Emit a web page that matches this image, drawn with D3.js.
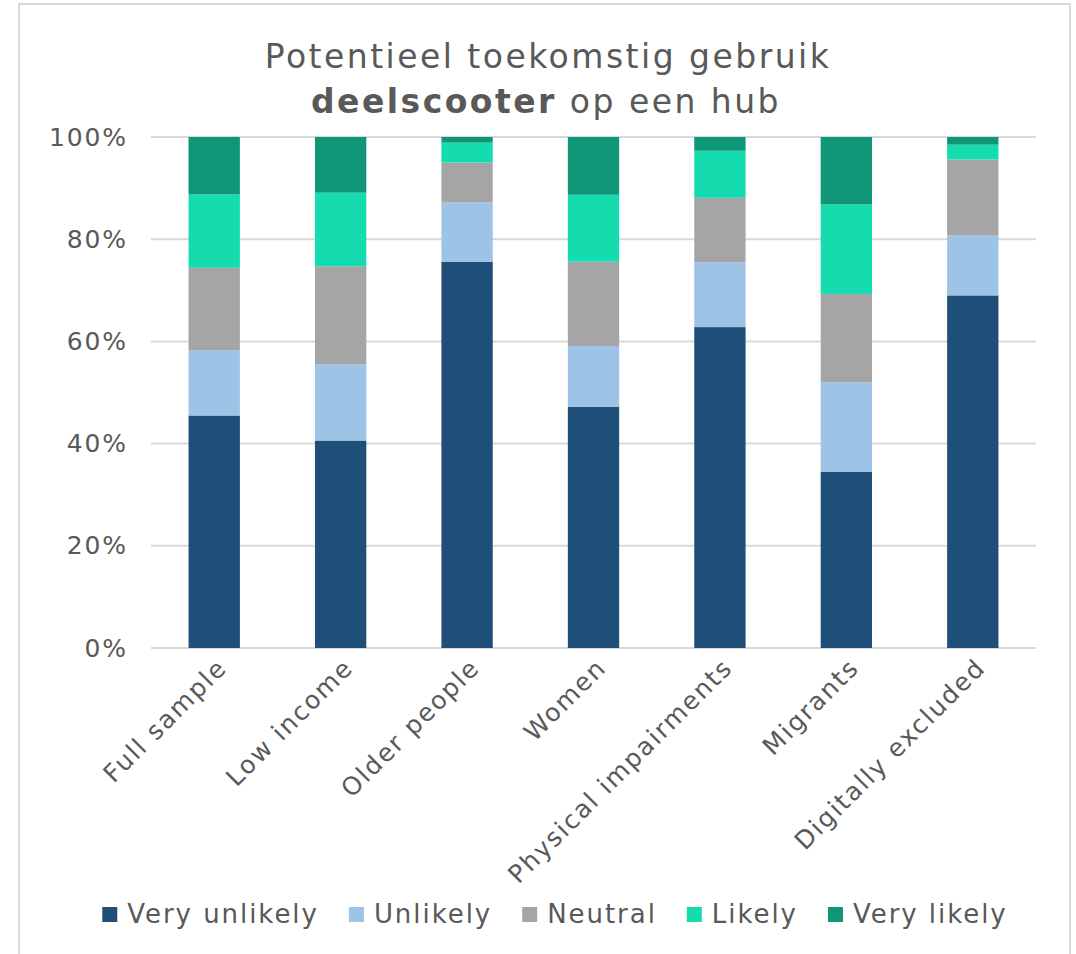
<!DOCTYPE html>
<html lang="nl">
<head>
<meta charset="UTF-8">
<title>Potentieel toekomstig gebruik deelscooter</title>
<script src="https://d3js.org/d3.v7.min.js"></script>
<style>
  body { margin: 0; background: #fff; }
  svg text { font-family: "DejaVu Sans", Verdana, sans-serif; fill: #595959; letter-spacing: 0.075em; }
</style>
</head>
<body>
<svg width="1076" height="954"></svg>
<script>
  // categories and answers (percent of group)
  const categories = ["Full sample", "Low income", "Older people", "Women", "Physical impairments", "Migrants", "Digitally excluded"];
  const seriesNames = ["Very unlikely", "Unlikely", "Neutral", "Likely", "Very likely"];
  const veryUnlikely = [45.5, 40.6, 75.6, 47.2, 62.8, 34.5, 69.0];
  const unlikely     = [12.7, 14.9, 11.6, 11.9, 12.7, 17.5, 11.7];
  const neutral      = [16.2, 19.2,  7.8, 16.5, 12.6, 17.3, 14.9];
  const likely       = [14.4, 14.4,  3.9, 13.1,  9.2, 17.5,  2.9];
  const veryLikely   = [11.2, 10.9,  1.1, 11.3,  2.7, 13.2,  1.5];
  const yTicks = [0, 20, 40, 60, 80, 100];

  const colors = ["#1f4e79", "#9dc3e6", "#a5a5a5", "#14dcae", "#0e9676"];

  const svg = d3.select("svg");

  // frame round the chart
  svg.append("rect")
    .attr("x", 19).attr("y", 4)
    .attr("width", 1051).attr("height", 980)
    .attr("fill", "none").attr("stroke", "#d9d9d9").attr("stroke-width", 2);

  // build rows for d3.stack
  const rows = categories.map((c, i) => ({
    cat: c,
    "Very unlikely": veryUnlikely[i],
    "Unlikely": unlikely[i],
    "Neutral": neutral[i],
    "Likely": likely[i],
    "Very likely": veryLikely[i]
  }));
  const stacked = d3.stack().keys(seriesNames)(rows);

  const x = d3.scaleBand().domain(categories).range([151, 1036]).paddingInner(0.594).paddingOuter(0.297);
  const y = d3.scaleLinear().domain([0, 100]).range([648, 137]);

  // title
  const title = svg.append("text").attr("text-anchor", "middle").style("font-size", "33px");
  title.append("tspan").attr("x", 548).attr("y", 68).text("Potentieel toekomstig gebruik");
  const l2 = title.append("tspan").attr("x", 546).attr("y", 113);
  l2.append("tspan").style("font-weight", "bold").text("deelscooter");
  l2.append("tspan").text(" op een hub");

  // gridlines
  svg.append("g")
    .selectAll("line")
    .data(yTicks)
    .join("line")
    .attr("x1", 151).attr("x2", 1036)
    .attr("y1", d => y(d)).attr("y2", d => y(d))
    .attr("stroke", "#d9d9d9").attr("stroke-width", 2);

  // y axis labels
  const yAxis = svg.append("g")
    .attr("transform", "translate(128,0)")
    .call(d3.axisLeft(y).tickValues(yTicks).tickFormat(d => d + "%").tickSize(0).tickPadding(0));
  yAxis.select(".domain").remove();
  yAxis.selectAll("text").style("font-size", "25px").attr("fill", "#595959");

  // bars
  svg.append("g")
    .selectAll("g")
    .data(stacked)
    .join("g")
    .attr("fill", (d, i) => colors[i])
    .selectAll("rect")
    .data(d => d)
    .join("rect")
    .attr("x", d => x(d.data.cat))
    .attr("width", x.bandwidth())
    .attr("y", d => y(d[1]))
    .attr("height", d => y(d[0]) - y(d[1]));

  // category labels
  svg.append("g")
    .selectAll("text")
    .data(categories)
    .join("text")
    .attr("transform", d => `translate(${x(d) + x.bandwidth() / 2 + 8},${663}) rotate(-45)`)
    .attr("text-anchor", "end")
    .attr("dy", "0.35em")
    .style("font-size", "25px")
    .text(d => d);

  // legend
  const legend = svg.append("g");
  let lx = 0;
  seriesNames.forEach((name, i) => {
    const item = legend.append("g").attr("transform", `translate(${lx},0)`);
    item.append("rect").attr("x", 0).attr("y", 907).attr("width", 15).attr("height", 15).attr("fill", colors[i]);
    const t = item.append("text").attr("x", 25).attr("y", 923).style("font-size", "26px").text(name);
    lx += 25 + t.node().getComputedTextLength() + 30;
  });
  const legendWidth = lx - 30;
  legend.attr("transform", `translate(${555 - legendWidth / 2},0)`);
</script>
</body>
</html>
